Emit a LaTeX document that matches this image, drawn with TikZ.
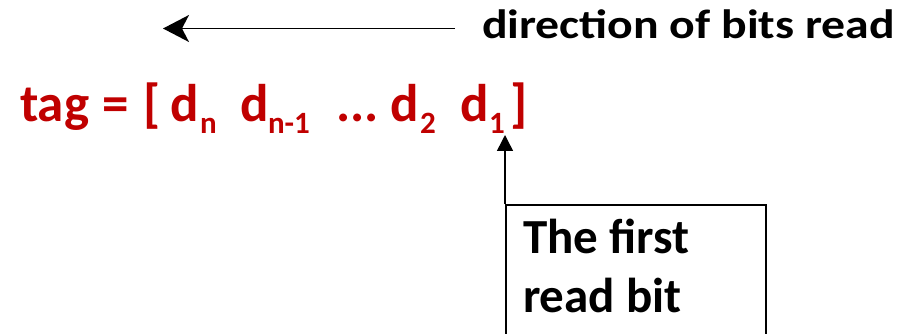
\documentclass[tikz,border=0pt]{standalone}
\usepackage{fontspec}
\setmainfont{Carlito}
\usetikzlibrary{arrows.meta}
\definecolor{tagred}{HTML}{C00000}
\tikzset{
  lbl/.style={font=\bfseries, inner sep=0pt, outer sep=0pt, anchor=base west},
  red/.style={lbl, text=tagred, font=\bfseries\fontsize{53}{53}\selectfont},
  redsub/.style={lbl, text=tagred, font=\bfseries\fontsize{31}{31}\selectfont},
  conn/.style={line width=1.5pt},
}
\begin{document}
\begin{tikzpicture}[x=1pt,y=-1pt]
\useasboundingbox (0,0) rectangle (908,334);
% direction label and arrow
\node[lbl, font=\bfseries\fontsize{41}{41}\selectfont] (dir) at (482,39) {\scalebox{1.165}[1]{direction of bits read}};
\coordinate (dirS) at (455,28.5);
\coordinate (dirE) at (163,28.5);
\draw[conn, -{Stealth[length=26pt,width=27pt,inset=7pt]}] (dirS) -- (dirE);
% tag expression
\node[red] (t1) at (20,122) {tag};
\node[red] (t2) at (102,122) {=};
\node[red] (t3) at (143,122) {[};
\node[red] (d1) at (170,122) {d};
\node[redsub] (s1) at (200,134) {n};
\node[red] (d2) at (240,122) {d};
\node[redsub] (s2) at (268,134) {n-1};
\node[red] (dots) at (336,122) {...};
\node[red] (d3) at (390,122) {d};
\node[redsub] (s3) at (420,134) {2};
\node[red] (d4) at (460,122) {d};
\node[redsub] (s4) at (489,134) {1};
\node[red] (t4) at (510,122) {]};
% box
\node[draw, conn, anchor=north west, minimum width=260pt, minimum height=160pt, inner sep=0pt] (box) at (505,204) {};
\node[lbl, align=left, font=\bfseries\fontsize{49}{59}\selectfont] (boxtxt) at (523,312) {The first\\read bit};
\coordinate (tip) at (505,135);
\draw[conn, -{Triangle[length=16pt,width=16pt]}] (box.north west) -- (tip);
\end{tikzpicture}
\end{document}
